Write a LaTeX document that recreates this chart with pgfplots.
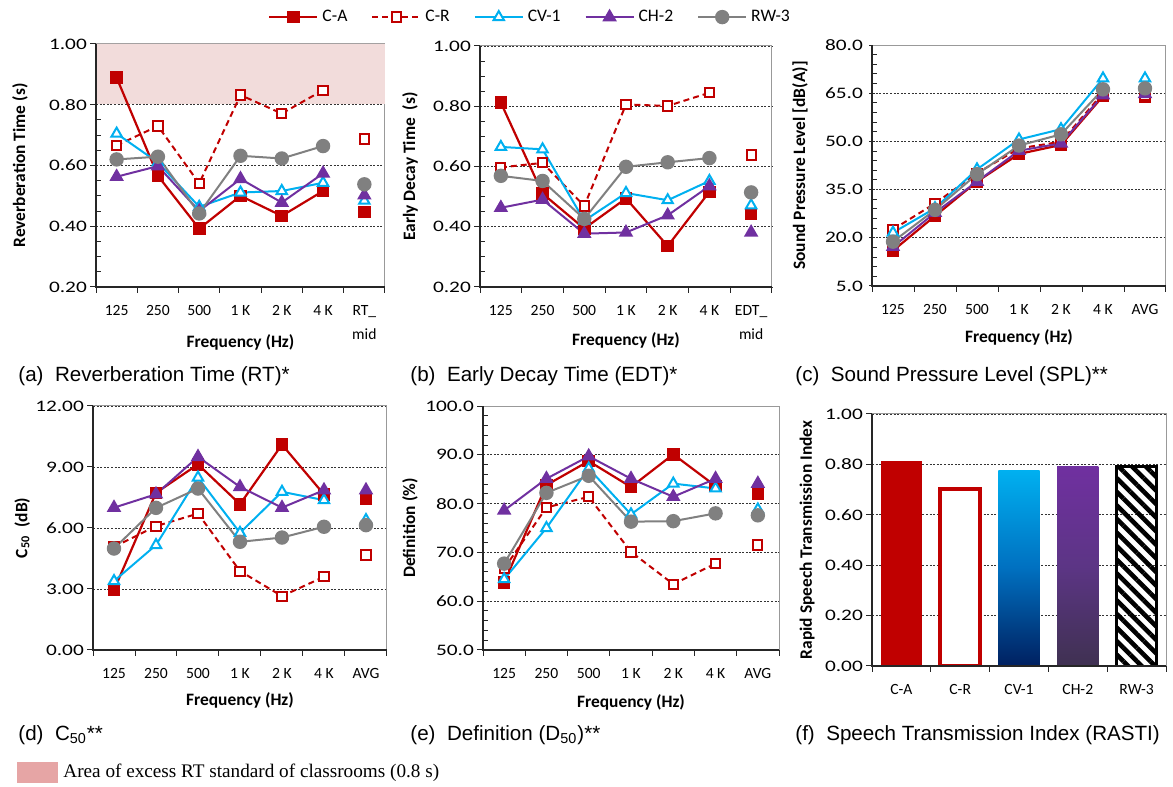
\documentclass[border=0pt]{standalone}
\usepackage{fontspec}
\setmainfont{Carlito}
\newfontfamily\capfont{Liberation Sans}
\newfontfamily\serfont{Liberation Serif}
\usepackage{pgfplots}
\pgfplotsset{compat=1.18}
\usetikzlibrary{patterns.meta}
\definecolor{cA}{HTML}{C00000}
\definecolor{cV}{HTML}{00B0F0}
\definecolor{cVm}{HTML}{0070C0}
\definecolor{cVb}{HTML}{002060}
\definecolor{cH}{HTML}{7030A0}
\definecolor{cHm}{HTML}{5C3585}
\definecolor{cHb}{HTML}{3F3151}
\definecolor{cG}{HTML}{808080}
\definecolor{shadeRT}{HTML}{F2DCDB}
\definecolor{keyRT}{HTML}{E6A5A5}

\pgfplotsset{
  sCA/.style={cA, line width=1.1pt, mark=square*, mark size=2.6pt, mark options={solid}},
  sCR/.style={cA, line width=1pt, dash pattern=on 3pt off 2pt, mark=square*, mark size=2.3pt, mark options={solid, fill=white, line width=1pt}},
  sCV/.style={cV, line width=1pt, mark=triangle*, mark size=3pt, mark options={solid, fill=white, line width=1pt}},
  sCH/.style={cH, line width=1pt, mark=triangle*, mark size=3.2pt},
  sRW/.style={cG, line width=1pt, mark=*, mark size=3.1pt},
  panel/.style={
    scale only axis, unbounded coords=jump,
    xmin=-0.5, xmax=6.5,
    xtick={-0.5,0.5,...,6.5}, xticklabels={},
    extra x ticks={0,1,2,3,4,5,6},
    extra x tick style={major tick length=0pt},
    ymajorgrids,
    major grid style={black!80, line width=0.4pt, dash pattern=on 1pt off 0.8pt},
    axis line style={draw=black!40, line width=0.5pt},
    tick align=outside, tick pos=left,
    major tick length=3pt, minor tick length=2.5pt,
    tick style={black!85, line width=0.5pt},
    minor y tick style={xshift=2.5pt},
    xticklabel style={font=\fontsize{7.8}{12}\selectfont, align=center, anchor=north, yshift=-5.6pt},
    yticklabel style={font=\fontsize{8}{9}\selectfont, xscale=1.33, inner sep=1pt},
    scaled y ticks=false,
    label style={font=\bfseries\fontsize{8.7}{10}\selectfont},
    ylabel style={anchor=center},
    xlabel style={anchor=center},
    legend image code/.code={\draw[mark repeat=2, mark phase=2] plot coordinates {(0pt,0pt) (12pt,0pt) (24pt,0pt)};},
    extra description/.code={\draw[black!85, line width=0.6pt] (0,1) -- (0,0) -- (1,0);},
  },
  two/.style={yticklabel style={/pgf/number format/.cd, fixed, fixed zerofill, precision=2, assume math mode=true}},
  one/.style={yticklabel style={/pgf/number format/.cd, fixed, fixed zerofill, precision=1, assume math mode=true}},
}

\begin{document}
\begin{tikzpicture}
\useasboundingbox (0,0) rectangle (586.5pt,393.5pt);

% (a) reverberation time
\begin{axis}[panel, two, at={(48pt,250pt)}, anchor=south west, width=144.5pt, height=121.5pt,
  ymin=0.2, ymax=1, ytick={0.2,0.4,0.6,0.8,1.0}, minor y tick num=3,
  extra x tick labels={125,250,500,1 K,2 K,4 K,{RT\_\\mid}},
  xlabel={Frequency (Hz)}, ylabel={Reverberation Time (s)},
  xlabel style={at={(axis description cs:0.5,-0.230)}},
  ylabel style={at={(axis description cs:-0.263,0.5)}}]
\addplot[draw=none, fill=shadeRT, forget plot] coordinates {(-0.5,0.803) (6.5,0.803) (6.5,1) (-0.5,1) (-0.5,0.803)};
\addplot[sCA] coordinates {(0,0.889) (1,0.566) (2,0.392) (3,0.500) (4,0.434) (5,0.516) (5.5,nan) (6,0.447)};
\addplot[sCR] coordinates {(0,0.666) (1,0.730) (2,0.541) (3,0.832) (4,0.771) (5,0.848) (5.5,nan) (6,0.687)};
\addplot[sCV] coordinates {(0,0.705) (1,0.610) (2,0.464) (3,0.511) (4,0.516) (5,0.543) (5.5,nan) (6,0.484)};
\addplot[sCH] coordinates {(0,0.563) (1,0.598) (2,0.450) (3,0.556) (4,0.478) (5,0.574) (5.5,nan) (6,0.502)};
\addplot[sRW] coordinates {(0,0.620) (1,0.629) (2,0.442) (3,0.632) (4,0.623) (5,0.664) (5.5,nan) (6,0.538)};
\end{axis}

% (b) early decay time
\begin{axis}[panel, two, at={(240pt,250pt)}, anchor=south west, width=146pt, height=120.5pt,
  ymin=0.2, ymax=1, ytick={0.2,0.4,0.6,0.8,1.0}, minor y tick num=3,
  extra x tick labels={125,250,500,1 K,2 K,4 K,{EDT\_\\mid}},
  xlabel={Frequency (Hz)}, ylabel={Early Decay Time\ \ (s)},
  xlabel style={at={(axis description cs:0.5,-0.220)}},
  ylabel style={at={(axis description cs:-0.240,0.5)}},
  legend style={at={(-0.747,1.12)}, anchor=west, draw=none, fill=none, legend columns=5,
    font=\fontsize{8.8}{10}\selectfont, /tikz/every even column/.append style={column sep=10pt}}]
\addplot[sCA] coordinates {(0,0.812) (1,0.510) (2,0.394) (3,0.494) (4,0.336) (5,0.516) (5.5,nan) (6,0.442)};
\addplot[sCR] coordinates {(0,0.597) (1,0.612) (2,0.469) (3,0.806) (4,0.801) (5,0.845) (5.5,nan) (6,0.638)};
\addplot[sCV] coordinates {(0,0.665) (1,0.657) (2,0.420) (3,0.512) (4,0.488) (5,0.552) (5.5,nan) (6,0.471)};
\addplot[sCH] coordinates {(0,0.463) (1,0.490) (2,0.377) (3,0.381) (4,0.438) (5,0.535) (5.5,nan) (6,0.381)};
\addplot[sRW] coordinates {(0,0.569) (1,0.552) (2,0.426) (3,0.599) (4,0.614) (5,0.628) (5.5,nan) (6,0.514)};
\legend{C-A,C-R,CV-1,CH-2,RW-3}
\end{axis}

% (c) sound pressure level
\begin{axis}[panel, one, at={(436pt,250.5pt)}, anchor=south west, width=147pt, height=120.5pt,
  ymin=5, ymax=80, ytick={5,20,35,50,65,80}, minor y tick num=4,
  major y tick style={xshift=1.5pt},
  extra x tick labels={125,250,500,1 K,2 K,4 K,AVG},
  xlabel={Frequency (Hz)}, ylabel={Sound Pressure Level [dB(A)]},
  xlabel style={at={(axis description cs:0.5,-0.212)}},
  ylabel style={at={(axis description cs:-0.245,0.5)}}]
\addplot[sCA] coordinates {(0,16.0) (1,26.8) (2,37.5) (3,46.1) (4,48.9) (5,64.1) (5.5,nan) (6,63.9)};
\addplot[sCR] coordinates {(0,22.6) (1,30.7) (2,40.1) (3,47.8) (4,49.9) (5,65.0) (5.5,nan) (6,64.4)};
\addplot[sCV] coordinates {(0,21.6) (1,29.2) (2,41.3) (3,50.6) (4,53.8) (5,69.6) (5.5,nan) (6,69.6)};
\addplot[sCH] coordinates {(0,17.2) (1,27.8) (2,37.5) (3,47.1) (4,49.4) (5,64.4) (5.5,nan) (6,64.8)};
\addplot[sRW] coordinates {(0,18.8) (1,28.7) (2,39.8) (3,48.7) (4,52.2) (5,66.2) (5.5,nan) (6,66.5)};
\end{axis}

% (d) C50
\begin{axis}[panel, two, at={(46.5pt,68.5pt)}, anchor=south west, width=147pt, height=122pt,
  ymin=0, ymax=12, ytick={0,3,6,9,12},
  extra x tick labels={125,250,500,1 K,2 K,4 K,AVG},
  xlabel={Frequency (Hz)}, ylabel={C\textsubscript{50}\ \ (dB)},
  xlabel style={at={(axis description cs:0.5,-0.205)}},
  ylabel style={at={(axis description cs:-0.241,0.5)}}]
\addplot[sCA] coordinates {(0,2.95) (1,7.73) (2,9.13) (3,7.17) (4,10.10) (5,7.65) (5.5,nan) (6,7.42)};
\addplot[sCR] coordinates {(0,5.07) (1,6.09) (2,6.71) (3,3.88) (4,2.65) (5,3.60) (5.5,nan) (6,4.67)};
\addplot[sCV] coordinates {(0,3.39) (1,5.16) (2,8.48) (3,5.76) (4,7.78) (5,7.37) (5.5,nan) (6,6.39)};
\addplot[sCH] coordinates {(0,7.00) (1,7.66) (2,9.50) (3,8.02) (4,7.00) (5,7.86) (5.5,nan) (6,7.86)};
\addplot[sRW] coordinates {(0,4.99) (1,6.99) (2,7.94) (3,5.32) (4,5.53) (5,6.06) (5.5,nan) (6,6.14)};
\end{axis}

% (e) definition
\begin{axis}[panel, one, at={(241.5pt,68.5pt)}, anchor=south west, width=148pt, height=122pt,
  ymin=50, ymax=100, ytick={50,60,70,80,90,100}, minor y tick num=4,
  extra x tick labels={125,250,500,1 K,2 K,4 K,AVG},
  xlabel={Frequency (Hz)}, ylabel={Definition (\%)},
  xlabel style={at={(axis description cs:0.5,-0.213)}},
  ylabel style={at={(axis description cs:-0.247,0.5)}}]
\addplot[sCA] coordinates {(0,63.8) (1,83.8) (2,88.7) (3,83.4) (4,90.1) (5,83.6) (5.5,nan) (6,82.1)};
\addplot[sCR] coordinates {(0,66.7) (1,79.2) (2,81.4) (3,70.1) (4,63.5) (5,67.7) (5.5,nan) (6,71.5)};
\addplot[sCV] coordinates {(0,64.5) (1,75.0) (2,87.2) (3,77.8) (4,84.1) (5,83.1) (5.5,nan) (6,78.8)};
\addplot[sCH] coordinates {(0,78.6) (1,85.1) (2,89.7) (3,85.1) (4,81.4) (5,85.1) (5.5,nan) (6,84.1)};
\addplot[sRW] coordinates {(0,67.7) (1,82.2) (2,85.7) (3,76.3) (4,76.4) (5,78.0) (5.5,nan) (6,77.6)};
\end{axis}

% (f) RASTI
\begin{axis}[panel, two, at={(436pt,60.5pt)}, anchor=south west, width=147pt, height=126pt,
  xmin=-0.5, xmax=4.5, xtick={-0.5,0.5,...,4.5}, extra x ticks={0,1,2,3,4},
  extra x tick labels={C-A,C-R,CV-1,CH-2,RW-3},
  ymin=0, ymax=1, ytick={0,0.2,0.4,0.6,0.8,1.0},
  ylabel={Rapid Speech Transmission Index},
  ylabel style={at={(axis description cs:-0.221,0.5)}}]
\addplot[ybar, bar width=0.7, bar shift=0pt, fill=cA, draw=none] coordinates {(0,0.813)};
\addplot[ybar, bar width=0.68, bar shift=0pt, fill=white, draw=cA, line width=2.1pt] coordinates {(1,0.703)};
\addplot[ybar, bar width=0.7, bar shift=0pt, draw=none, top color=cV, bottom color=cVb, middle color=cVm] coordinates {(2,0.776)};
\addplot[ybar, bar width=0.7, bar shift=0pt, draw=none, top color=cH, bottom color=cHb, middle color=cHm] coordinates {(3,0.792)};
\addplot[ybar, bar width=0.68, bar shift=0pt, draw=black, line width=1.2pt, pattern={Lines[angle=-45,distance=4.8pt,line width=2.3pt]}, pattern color=black] coordinates {(4,0.792)};
\end{axis}

% captions
\begin{scope}[every node/.style={anchor=west, inner sep=0pt, font=\capfont\fontsize{10.3}{12}\selectfont}]
\node at (9pt,205.5pt) {(a)\ \ Reverberation Time (RT)*};
\node at (205pt,205.5pt) {(b)\ \ Early Decay Time (EDT)*};
\node at (397.5pt,205.5pt) {(c)\ \ Sound Pressure Level (SPL)**};
\node at (9pt,26pt) {(d)\ \ C\textsubscript{50}**};
\node at (205pt,26pt) {(e)\ \ Definition (D\textsubscript{50})**};
\node at (397.5pt,26pt) {(f)\ \ Speech Transmission Index (RASTI)};
\end{scope}
\fill[keyRT] (8.5pt,1.8pt) rectangle (29pt,12.5pt);
\node[anchor=west, inner sep=0pt, font=\serfont\fontsize{9.6}{11}\selectfont] at (31.5pt,7.2pt) {Area of excess RT standard of classrooms (0.8 s)};
\end{tikzpicture}
\end{document}
